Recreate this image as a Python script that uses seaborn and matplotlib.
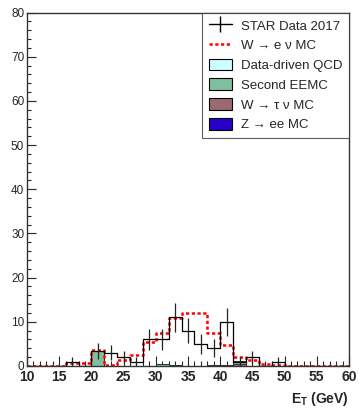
import numpy as np
import pandas as pd
import matplotlib
matplotlib.use("Agg")
import matplotlib.pyplot as plt
import seaborn as sns
from matplotlib.lines import Line2D
from matplotlib.patches import Patch
from matplotlib.ticker import MultipleLocator

# ---- data ----
bin_edges = list(range(10, 62, 2))
bin_centers = list(range(11, 61, 2))
star_data = [0, 0, 0, 1.0, 0, 3.3, 3.0, 2.0, 1.0, 6.0, 6.0, 11.0, 8.0,
             5.0, 4.0, 10.0, 1.0, 2.0, 0, 1.0, 0, 0, 0, 0, 0]
w_enu_mc = [0, 0, 0, 0.6, 0.7, 3.6, 0.2, 1.4, 2.6, 5.4, 7.4, 10.9, 11.9,
            11.9, 7.4, 4.7, 2.1, 1.4, 0.45, 0.3, 0.05, 0.05, 0.05, 0.05, 0.05]
qcd = [0] * 25
second_eemc = [0, 0, 0, 0, 0, 3.3, 0, 0, 0, 0, 0.5, 0, 0,
               0, 0, 0, 0.6, 0, 0, 0, 0, 0, 0, 0, 0]
w_taunu = [0, 0, 0, 0, 0, 0, 0, 0, 0, 0, 0, 0, 0,
           0, 0, 0, 0.5, 0, 0, 0, 0, 0, 0, 0, 0]
z_ee = [0, 0, 0, 0, 0, 0, 0, 0, 0, 0, 0, 0.3, 0,
        0, 0.3, 0.3, 0, 0, 0, 0, 0, 0, 0, 0, 0]

labels = ["STAR Data 2017", "W \u2192 e \u03bd MC", "Data-driven QCD",
          "Second EEMC", "W \u2192 \u03c4 \u03bd MC", "Z \u2192 ee MC"]
colors = {"Data-driven QCD": "#ccffff", "Second EEMC": "#7fbf9f",
          "W \u2192 \u03c4 \u03bd MC": "#9a6a6e", "Z \u2192 ee MC": "#2a00c8"}

sns.set_style("ticks")
plt.rcParams["font.family"] = ["Liberation Sans", "DejaVu Sans"]
plt.rcParams["mathtext.fontset"] = "custom"
plt.rcParams["mathtext.rm"] = "Liberation Sans"
plt.rcParams["mathtext.bf"] = "Liberation Sans:bold"

fig = plt.figure(figsize=(3.6, 4.08), dpi=100)
ax = fig.add_axes([27 / 360, 42 / 408, 322 / 360, 353.5 / 408])

# stacked backgrounds
stack_names = ["Data-driven QCD", "Second EEMC", "W \u2192 \u03c4 \u03bd MC", "Z \u2192 ee MC"]
stack_vals = [qcd, second_eemc, w_taunu, z_ee]
rows = []
for name, vals in zip(stack_names, stack_vals):
    for c, v in zip(bin_centers, vals):
        rows.append({"x": c, "w": v, "comp": name})
df = pd.DataFrame(rows)
sns.histplot(data=df, x="x", weights="w", hue="comp", hue_order=stack_names,
             multiple="stack", bins=bin_edges, element="step", fill=True,
             palette=colors, alpha=1, linewidth=0.6, edgecolor="#333333",
             legend=False, ax=ax)

# W -> e nu MC
sns.histplot(x=bin_centers, weights=w_enu_mc, bins=bin_edges, element="step",
             fill=False, color="red", linewidth=1.8, linestyle=(0, (1.3, 1.0)),
             ax=ax)

# data
sns.histplot(x=bin_centers, weights=star_data, bins=bin_edges, element="step",
             fill=False, color="black", linewidth=0.9, ax=ax)
dc = np.array(bin_centers, dtype=float)
dv = np.array(star_data, dtype=float)
m = dv > 0
ax.errorbar(dc[m], dv[m], yerr=np.sqrt(dv[m]), fmt="none", ecolor="#222222",
            elinewidth=0.9, capsize=0)

ax.set_xlim(10, 60)
ax.set_ylim(0, 80)
ax.xaxis.set_major_locator(MultipleLocator(5))
ax.xaxis.set_minor_locator(MultipleLocator(1))
ax.yaxis.set_major_locator(MultipleLocator(10))
ax.yaxis.set_minor_locator(MultipleLocator(2))
ax.tick_params(axis="x", which="major", direction="in", length=7.2, width=0.8,
               labelsize=10, pad=3, top=False)
ax.tick_params(axis="x", which="minor", direction="in", length=3.6, width=0.8, top=False)
ax.tick_params(axis="y", which="major", direction="in", length=6.5, width=0.8,
               labelsize=8.5, pad=2, right=False)
ax.tick_params(axis="y", which="minor", direction="in", length=3.2, width=0.8, right=False)
for lab in ax.get_xticklabels():
    lab.set_fontweight("bold")
for sp in ax.spines.values():
    sp.set_color("#333333")
    sp.set_linewidth(1.0)
ax.set_ylabel("")
ax.set_xlabel(r"$\mathbf{E_{T}}$ (GeV)", fontsize=10, fontweight="bold",
              loc="right", labelpad=4)

handles = [
    Line2D([], [], color="black", marker="|", markersize=11, lw=1.0, markeredgewidth=1.0),
    Line2D([], [], color="red", lw=1.8, linestyle=(0, (1.3, 1.0))),
    Patch(facecolor=colors["Data-driven QCD"], edgecolor="black", lw=0.8),
    Patch(facecolor=colors["Second EEMC"], edgecolor="black", lw=0.8),
    Patch(facecolor=colors["W \u2192 \u03c4 \u03bd MC"], edgecolor="black", lw=0.8),
    Patch(facecolor=colors["Z \u2192 ee MC"], edgecolor="black", lw=0.8),
]
leg = ax.legend(handles, labels, loc="upper right", bbox_to_anchor=(1.0, 1.0),
                frameon=True, fancybox=False, edgecolor="#333333", fontsize=9.5,
                handlelength=1.75, handleheight=1.0, handletextpad=0.7,
                labelspacing=0.48, borderpad=0.5, borderaxespad=0)
leg.get_frame().set_linewidth(0.8)

fig.savefig("out.png", dpi=100)
